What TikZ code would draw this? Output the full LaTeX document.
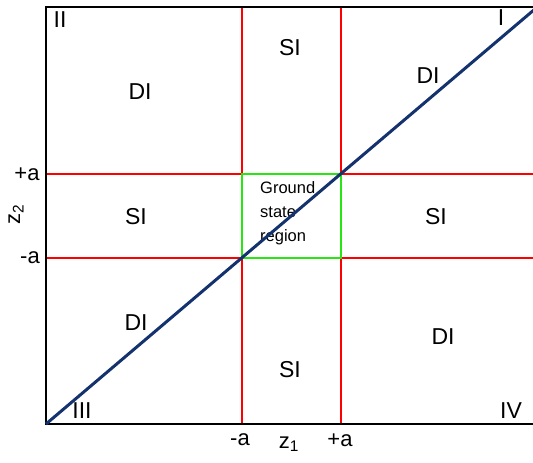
\documentclass[tikz,border=0pt]{standalone}
\usepackage{fontspec}
\setmainfont{Liberation Sans}
\definecolor{diag}{RGB}{20,50,110}
\definecolor{grn}{RGB}{40,230,20}
\begin{document}
\begin{tikzpicture}[x=1pt,y=-1pt,
  lbl/.style={font=\fontsize{23}{25}\selectfont, inner sep=0pt},
  axlbl/.style={font=\fontsize{22}{24}\selectfont, inner sep=0pt},
  redln/.style={red, line width=1.6pt},
  frame/.style={black, line width=2pt}]
\useasboundingbox (0,0) rectangle (533,463);
% red grid lines
\draw[redln] (242,7) -- (242,424);
\draw[redln] (341,7) -- (341,424);
\draw[redln] (46,174) -- (533,174);
\draw[redln] (46,258) -- (533,258);
% ground state box
\node[draw=grn, line width=2.8pt, minimum width=99pt, minimum height=84pt, inner sep=0pt] (gs) at (291.5,216) {};
\node[font=\fontsize{16.5}{24}\selectfont, align=left, inner sep=0pt, anchor=north west] (gst) at (260,181) {Ground\\state\\region};
% frame
\draw[frame] (533,7) -- (46,7) -- (46,424) -- (533,424);
\coordinate (c0) at (46,424);
\coordinate (c1) at (535,9);
\draw[diag, line width=3pt] (c0) -- (c1);
% region labels
\node[lbl] (di1) at (140,92) {DI};
\node[lbl] (si1) at (290,48) {SI};
\node[lbl] (di2) at (428,76) {DI};
\node[lbl] (si2) at (136,217) {SI};
\node[lbl] (si3) at (436,217) {SI};
\node[lbl] (di3) at (136,323) {DI};
\node[lbl] (si4) at (290,370) {SI};
\node[lbl] (di4) at (443,337) {DI};
% quadrant labels
\node[lbl] (q2) at (60,20) {II};
\node[lbl] (q1) at (501,18) {I};
\node[lbl] (q3) at (82,411) {III};
\node[lbl] (q4) at (511,411) {IV};
% axes labels
\node[axlbl] (pa2) at (27,174) {+a};
\node[axlbl] (ma2) at (30,258) {-a};
\node[axlbl, rotate=90] (z2) at (16,214) {z$_{\mathrm{2}}$};
\node[axlbl] (ma1) at (240,440) {-a};
\node[axlbl] (z1) at (289,444) {z$_{\mathrm{1}}$};
\node[axlbl] (pa1) at (340,440) {+a};
\end{tikzpicture}
\end{document}
